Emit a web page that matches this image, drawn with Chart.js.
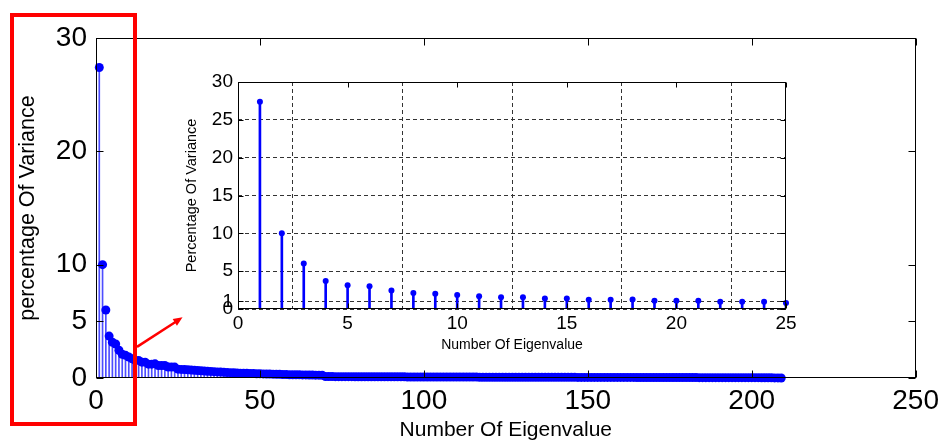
<!DOCTYPE html>
<html>
<head>
<meta charset="utf-8">
<script src="https://cdn.jsdelivr.net/npm/chart.js@4.4.1/dist/chart.umd.min.js"></script>
<style>
html, body { margin: 0; padding: 0; background: #fff; }
#wrap { position: relative; width: 945px; height: 443px; }
#main { position: absolute; left: 0; top: 0; }
#inset { position: absolute; left: 180px; top: 62px; }
</style>
</head>
<body>
<div id="wrap">
  <canvas id="main" width="945" height="443"></canvas>
  <canvas id="inset" width="620" height="300"></canvas>
</div>
<script>
// percentage of variance explained by each eigenvalue
var variance = [
  27.4, 10.0, 6.0, 3.7, 3.15, 3.0, 2.45, 2.1, 2.0, 1.85,
  1.7, 1.55, 1.55, 1.4, 1.4, 1.22, 1.22, 1.25, 1.1, 1.1,
  1.1, 0.97, 0.97, 0.96, 0.78, 0.76, 0.74, 0.72, 0.70, 0.68,
  0.66, 0.64, 0.62, 0.60, 0.58, 0.56, 0.54, 0.52, 0.50, 0.49,
  0.47, 0.46, 0.44, 0.43, 0.42, 0.41, 0.40, 0.39, 0.38, 0.37,
  0.36, 0.35, 0.35, 0.34, 0.33, 0.32, 0.30, 0.30, 0.29, 0.29,
  0.28, 0.28, 0.27, 0.27, 0.26, 0.26, 0.25, 0.25, 0.24, 0.13,
  0.13, 0.13, 0.12, 0.12, 0.12, 0.12, 0.12, 0.12, 0.11, 0.11,
  0.11, 0.11, 0.11, 0.11, 0.11, 0.10, 0.10, 0.10, 0.10, 0.10,
  0.10, 0.10, 0.10, 0.10, 0.09, 0.09, 0.09, 0.09, 0.09, 0.09,
  0.09, 0.09, 0.09, 0.09, 0.08, 0.08, 0.08, 0.08, 0.08, 0.08,
  0.08, 0.08, 0.08, 0.08, 0.08, 0.08, 0.07, 0.07, 0.07, 0.07,
  0.07, 0.07, 0.07, 0.07, 0.07, 0.07, 0.07, 0.07, 0.07, 0.06,
  0.06, 0.06, 0.06, 0.06, 0.06, 0.06, 0.06, 0.06, 0.06, 0.06,
  0.06, 0.06, 0.06, 0.06, 0.06, 0.06, 0.05, 0.05, 0.05, 0.05,
  0.05, 0.05, 0.05, 0.05, 0.05, 0.05, 0.05, 0.05, 0.05, 0.05,
  0.05, 0.05, 0.05, 0.05, 0.04, 0.04, 0.04, 0.04, 0.04, 0.04,
  0.04, 0.04, 0.04, 0.04, 0.04, 0.04, 0.04, 0.04, 0.04, 0.04,
  0.04, 0.04, 0.04, 0.03, 0.03, 0.03, 0.03, 0.03, 0.03, 0.03,
  0.03, 0.03, 0.03, 0.03, 0.03, 0.03, 0.03, 0.03, 0.03, 0.03,
  0.03, 0.03, 0.02, 0.02, 0.02, 0.02, 0.01, 0.01, 0.00
];
var insetCount = 25;

var mainXTicks = [0, 50, 100, 150, 200, 250];
var mainYTicks = [0, 5, 10, 20, 30];
var insetXTicks = [0, 5, 10, 15, 20, 25];
var insetYTicks = [0, 1, 5, 10, 15, 20, 25, 30];

var points = variance.map(function (v, i) {
  return { x: i + 1, y: v };
});
var insetPoints = points.slice(0, insetCount);

Chart.defaults.font.family = "'Liberation Sans', Arial, sans-serif";
Chart.defaults.color = '#000';

function fixedTicks(list) {
  return function (scale) {
    scale.ticks = list.map(function (v) { return { value: v }; });
  };
}

// matlab style box with ticks pointing inwards on every side
var boxTicks = {
  id: 'boxTicks',
  beforeDraw: function (chart, args, opts) {
    if (!opts.fill) return;
    var a = chart.chartArea, ctx = chart.ctx;
    ctx.save();
    ctx.fillStyle = opts.fill;
    ctx.fillRect(a.left, a.top, a.right - a.left, a.bottom - a.top);
    ctx.restore();
  },
  afterDatasetsDraw: function (chart, args, opts) {
    var a = chart.chartArea, ctx = chart.ctx, len = opts.length;
    var xs = chart.scales.x, ys = chart.scales.y;
    var l = Math.round(a.left) + 0.5, r = Math.round(a.right) - 0.5;
    var t = Math.round(a.top) + 0.5, b = Math.round(a.bottom) - 0.5;
    ctx.save();
    ctx.strokeStyle = '#000';
    ctx.lineWidth = 1;
    ctx.beginPath();
    xs.ticks.forEach(function (tk) {
      var px = Math.round(xs.getPixelForValue(tk.value)) + 0.5;
      ctx.moveTo(px, b); ctx.lineTo(px, b - len);
      ctx.moveTo(px, t); ctx.lineTo(px, t + len);
    });
    ys.ticks.forEach(function (tk) {
      var py = Math.round(ys.getPixelForValue(tk.value)) + 0.5;
      ctx.moveTo(l, py); ctx.lineTo(l + len, py);
      ctx.moveTo(r, py); ctx.lineTo(r - len, py);
    });
    ctx.stroke();
    ctx.strokeRect(l, t, r - l, b - t);
    ctx.restore();
  }
};

// red frame round the first eigenvalues and the arrow to the zoomed view
var highlight = {
  id: 'highlight',
  afterDraw: function (chart) {
    var a = chart.chartArea, ctx = chart.ctx;
    var xs = chart.scales.x, ys = chart.scales.y;
    ctx.save();
    ctx.strokeStyle = '#ff0000';
    ctx.fillStyle = '#ff0000';
    ctx.lineWidth = 4;
    ctx.strokeRect(a.left - 84, a.top - 23, 123, 409);

    var x0 = xs.getPixelForValue(12.5), y0 = ys.getPixelForValue(2.75);
    var x1 = xs.getPixelForValue(26.4), y1 = ys.getPixelForValue(5.35);
    var ang = Math.atan2(y1 - y0, x1 - x0);
    var head = 10;
    ctx.lineWidth = 2.5;
    ctx.beginPath();
    ctx.moveTo(x0, y0);
    ctx.lineTo(x1 - Math.cos(ang) * head * 0.8, y1 - Math.sin(ang) * head * 0.8);
    ctx.stroke();
    ctx.beginPath();
    ctx.moveTo(x1, y1);
    ctx.lineTo(x1 - head * Math.cos(ang - 0.4), y1 - head * Math.sin(ang - 0.4));
    ctx.lineTo(x1 - head * Math.cos(ang + 0.4), y1 - head * Math.sin(ang + 0.4));
    ctx.closePath();
    ctx.fill();
    ctx.restore();
  }
};

new Chart(document.getElementById('main').getContext('2d'), {
  type: 'bar',
  data: {
    datasets: [{
      type: 'bar',
      data: points,
      backgroundColor: '#4d4dff',
      borderWidth: 0,
      barThickness: 1,
      order: 2
    }, {
      type: 'scatter',
      data: points,
      pointRadius: 4.5,
      pointBackgroundColor: '#0000ff',
      pointBorderWidth: 0,
      clip: false,
      order: 1
    }]
  },
  options: {
    responsive: false,
    animation: false,
    layout: { padding: { top: 38, right: 29, left: 0, bottom: 0 } },
    plugins: {
      legend: { display: false },
      tooltip: { enabled: false },
      boxTicks: { length: 7 }
    },
    scales: {
      x: {
        type: 'linear',
        min: 0, max: 250,
        offset: false,
        grid: { display: false, drawTicks: false },
        border: { display: false },
        afterBuildTicks: fixedTicks(mainXTicks),
        afterFit: function (s) { s.height = 65; },
        ticks: { font: { size: 28 }, padding: 6, maxRotation: 0, autoSkip: false },
        title: { display: true, text: 'Number Of Eigenvalue', font: { size: 21 }, padding: 0 }
      },
      y: {
        min: 0, max: 30,
        grid: { display: false, drawTicks: false },
        border: { display: false },
        afterBuildTicks: fixedTicks(mainYTicks),
        afterFit: function (s) { s.width = 96; },
        ticks: { font: { size: 28 }, padding: 9, autoSkip: false },
        title: { display: true, text: 'percentage Of Variance', font: { size: 21.5 }, padding: { top: 15 } }
      }
    }
  },
  plugins: [boxTicks, highlight]
});

new Chart(document.getElementById('inset').getContext('2d'), {
  type: 'bar',
  data: {
    datasets: [{
      type: 'bar',
      data: insetPoints,
      backgroundColor: '#0000ff',
      borderWidth: 0,
      barThickness: 2,
      order: 2
    }, {
      type: 'scatter',
      data: insetPoints,
      pointRadius: 3,
      pointBackgroundColor: '#0000ff',
      pointBorderWidth: 0,
      clip: false,
      order: 1
    }]
  },
  options: {
    responsive: false,
    animation: false,
    layout: { padding: { top: 20, right: 14, left: 0, bottom: 0 } },
    plugins: {
      legend: { display: false },
      tooltip: { enabled: false },
      boxTicks: { length: 5, fill: '#fff' }
    },
    scales: {
      x: {
        type: 'linear',
        min: 0, max: 25,
        offset: false,
        grid: { color: '#333', lineWidth: 1, drawTicks: false },
        border: { display: false, dash: [4, 3] },
        afterBuildTicks: fixedTicks(insetXTicks),
        afterFit: function (s) { s.height = 53; },
        ticks: { font: { size: 19 }, padding: 3, maxRotation: 0, autoSkip: false },
        title: { display: true, text: 'Number Of Eigenvalue', font: { size: 14 }, padding: { bottom: 8 } }
      },
      y: {
        min: 0, max: 30,
        grid: { color: '#333', lineWidth: 1, drawTicks: false },
        border: { display: false, dash: [4, 3] },
        afterBuildTicks: fixedTicks(insetYTicks),
        afterFit: function (s) { s.width = 58; },
        ticks: { font: { size: 19 }, padding: 5, autoSkip: false },
        title: { display: true, text: 'Percentage Of Variance', font: { size: 14.5 }, padding: { top: 3 } }
      }
    }
  },
  plugins: [boxTicks]
});
</script>
</body>
</html>
